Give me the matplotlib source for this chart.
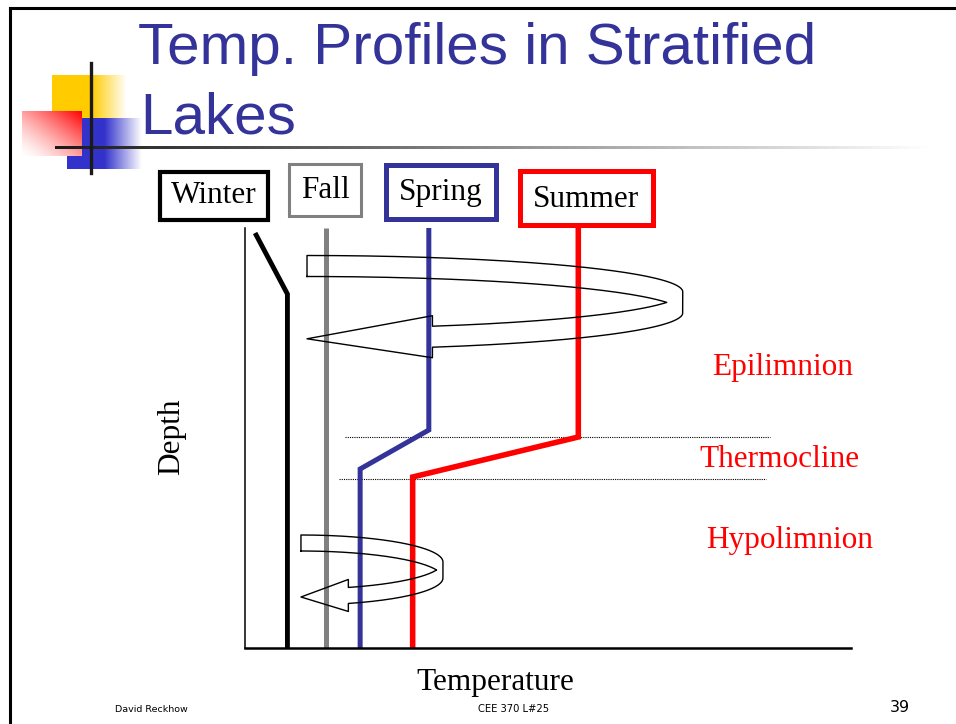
import numpy as np
import matplotlib.pyplot as plt
from matplotlib.patches import Rectangle

W, H = 956, 724

# temperature profiles (temperature in arbitrary units, depth increasing downward)
seasons = ["Winter", "Fall", "Spring", "Summer"]
season_colors = ["black", "#808080", "#333399", "#ff0000"]
winter_temp = [0.5, 2.1, 2.1]
winter_depth = [0.25, 3.3, 21]
fall_temp = [4.0, 4.0]
fall_depth = [0, 21]
spring_temp = [9.1, 9.1, 5.7, 5.7]
spring_depth = [0, 10.1, 12.05, 21]
summer_temp = [16.5, 16.5, 8.3, 8.3]
summer_depth = [0, 10.45, 12.45, 21]

thermo_top_depth = 10.45
thermo_top_span = [4.95, 26.0]
thermo_bot_depth = 12.55
thermo_bot_span = [4.65, 25.8]

layer_names = ["Epilimnion", "Thermocline", "Hypolimnion"]

# mixing arrows: centre temp, half-length, centre depth, half-height, band width
upper_arrow = [3.07, 18.6, 3.72, 1.82, 1.05]
lower_arrow = [2.77, 7.03, 17.1, 1.35, 0.8]

TITLE_BLUE = "#333399"
SERIF = "Liberation Serif"


def swirl_outline(cx, a, cy, b, w, theta_end=-70.5):
    te = np.radians(theta_end)
    tc = np.arcsin(w / (2 * b))
    back = np.linspace(np.pi / 2, 0, 80)
    front = np.linspace(0, te, 60)
    xs, ys = [cx, cx], [cy - b + w / 2, cy - b - w / 2]
    xs += list(cx + a * np.cos(back)); ys += list(cy - b * np.sin(back) - w / 2)
    xs += list(cx + a * np.cos(front)); ys += list(cy - b * np.sin(front) + w / 2)
    xb, yc = cx + a * np.cos(te), cy - b * np.sin(te)
    xs += [xb, xb, cx, xb, xb]
    ys += [yc + w / 2, yc + w, cy + b, yc - w, yc - w / 2]
    fr = np.linspace(te, -tc, 60)
    xs += list(cx + a * np.cos(fr)); ys += list(cy - b * np.sin(fr) - w / 2)
    bk = np.linspace(tc, np.pi / 2, 60)
    xs += list(cx + a * np.cos(bk)); ys += list(cy - b * np.sin(bk) + w / 2)
    xs.append(xs[0]); ys.append(ys[0])
    return xs, ys


def fade(ax, x0, x1, y0, y1, rgb, alpha_fn, n=120):
    u = np.linspace(0, 1, n)[None, :]
    v = np.linspace(0, 1, n)[:, None]
    t = np.clip(alpha_fn(u, v), 0, 1)[..., None]
    img = np.ones((n, n, 3)) * (1 - t) + np.array(rgb)[None, None, :] * t
    ax.imshow(img, extent=(x0, x1, y1, y0), aspect="auto", interpolation="bilinear", zorder=1)


fig = plt.figure(figsize=(W / 100, H / 100), dpi=100)
bg = fig.add_axes([0, 0, 1, 1])
bg.axis("off")

# slide frame
bg.plot([10, 10], [8, H], color="black", lw=2.2, zorder=5)
bg.plot([10, W], [8, 8], color="black", lw=2.2, zorder=5)

# logo squares
fade(bg, 52, 127, 75, 118, (1, 0.8, 0), lambda u, v: 1 - (u - 0.53) / 0.47 + 0 * v)
fade(bg, 67, 142, 118, 169, (0.2, 0.2, 0.8), lambda u, v: 1 - (u - 0.5) / 0.5 + 0 * v)
fade(bg, 22, 82, 111, 156, (1, 0, 0), lambda u, v: (0.5 * u + 0.5 * (1 - v)) ** 1.4)
bg.plot([91, 91], [63, 173], color="#1a1a1a", lw=2.4, zorder=4)
line = np.linspace(0.1, 1, 300)
bg.imshow(np.tile(line[None, :, None], (1, 1, 3)), extent=(55, 930, 149.5, 146.5),
          aspect="auto", interpolation="bilinear", zorder=3)
bg.set_xlim(0, W)
bg.set_ylim(H, 0)

# title
bg.text(138, 64, "Temp. Profiles in Stratified", fontsize=42, color=TITLE_BLUE,
        family="Liberation Sans", va="baseline", ha="left")
bg.text(140, 133, "Lakes", fontsize=42, color=TITLE_BLUE,
        family="Liberation Sans", va="baseline", ha="left")

# season boxes
boxes = [(158, 170, 270, 222, 3.0), (287, 162, 363, 218, 2.2),
         (383, 162, 499, 222, 3.6), (517, 168, 656, 228, 3.6)]
baselines = [203, 198, 200, 207]
for (x0, y0, x1, y1, lw), name, col, yb in zip(boxes, seasons, season_colors, baselines):
    bg.add_patch(Rectangle((x0 + lw * 0.7, y0 + lw * 0.7), x1 - x0 - lw * 1.4, y1 - y0 - lw * 1.4,
                           fill=False, edgecolor=col, lw=lw, joinstyle="miter", zorder=5))
    bg.text((x0 + x1) / 2, yb, name, fontsize=22.5, family=SERIF, ha="center", va="baseline", zorder=6)

# layer labels
bg.text(783, 375, layer_names[0], fontsize=22.5, family=SERIF, color="#ff0000", ha="center", va="baseline")
bg.text(779, 467, layer_names[1], fontsize=22.5, family=SERIF, color="#ff0000", ha="center", va="baseline")
bg.text(790, 548, layer_names[2], fontsize=22.5, family=SERIF, color="#ff0000", ha="center", va="baseline")

bg.text(172, 437, "Depth", fontsize=22.5, family=SERIF, rotation=90, ha="center", va="center")
bg.text(495, 690, "Temperature", fontsize=22.5, family=SERIF, ha="center", va="baseline")

# footer
bg.text(115, 712, "David Reckhow", fontsize=6.8, ha="left", va="baseline")
bg.text(514, 712, "CEE 370 L#25", fontsize=7.2, ha="center", va="baseline")
bg.text(900, 712, "39", fontsize=11.5, ha="center", va="baseline")

# chart
ax = fig.add_axes([245 / W, (H - 648) / H, 606 / W, 420 / H])
ax.patch.set_visible(False)
ax.set_xlim(0, 30)
ax.set_ylim(21, 0)
for s in ["top", "right"]:
    ax.spines[s].set_visible(False)
ax.spines["left"].set_linewidth(1.1)
ax.spines["bottom"].set_linewidth(1.8)
ax.set_xticks([])
ax.set_yticks([])

ax.plot(thermo_top_span, [thermo_top_depth] * 2, color="black", lw=0.8, ls=(0, (1, 1)))
ax.plot(thermo_bot_span, [thermo_bot_depth] * 2, color="black", lw=0.8, ls=(0, (1, 1)))

profiles = [(winter_temp, winter_depth), (fall_temp, fall_depth),
            (spring_temp, spring_depth), (summer_temp, summer_depth)]
widths = [3.5, 3.6, 3.6, 4.0]
for (t, d), col, lw in zip(profiles, season_colors, widths):
    ax.plot(t, d, color=col, lw=lw, solid_joinstyle="miter", solid_capstyle="butt", clip_on=False)

for arr in [upper_arrow, lower_arrow]:
    xs, ys = swirl_outline(*arr)
    ax.plot(xs, ys, color="black", lw=1.0, clip_on=False, zorder=4)

fig.savefig("out.png", dpi=100)
